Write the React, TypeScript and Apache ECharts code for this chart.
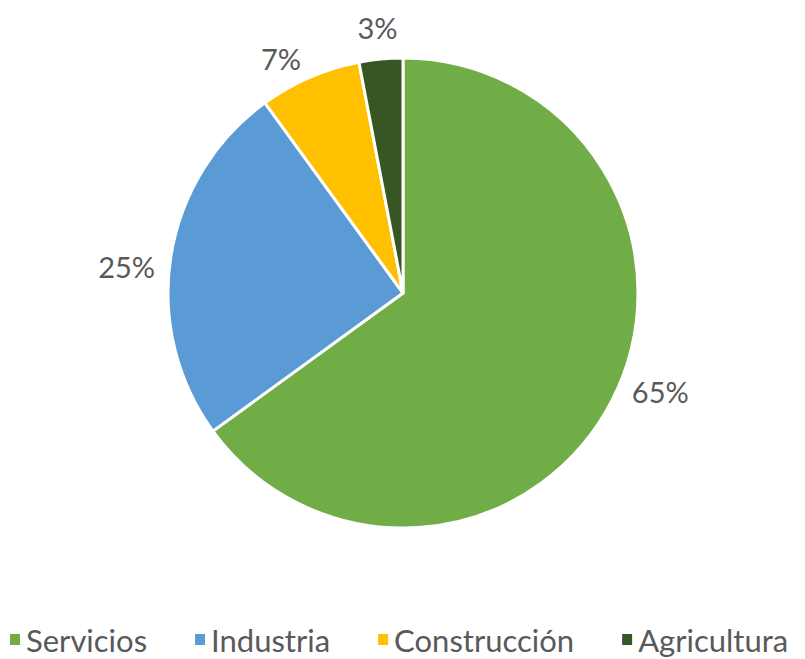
import React, { useEffect, useRef } from "react";
import * as echarts from "echarts";

const categories = ["Servicios", "Industria", "Construcción", "Agricultura"];
const values = [65, 25, 7, 3];
const colors = ["#70AD47", "#5B9BD5", "#FFC000", "#375623"];

export default function App() {
  const ref = useRef<HTMLDivElement>(null);
  useEffect(() => {
    document.body.style.margin = "0";
    const chart = echarts.init(ref.current!, null, { renderer: "svg" });
    const labelShift = [
      [2, -15],
      [3, 12],
      [2, -6],
      [23, -18],
    ];
    chart.setOption({
      animation: false,
      backgroundColor: "#ffffff",
      textStyle: { fontFamily: "Lato, 'Open Sans', sans-serif" },
      legend: {
        bottom: 4,
        left: 8,
        padding: 0,
        icon: "rect",
        itemWidth: 12,
        itemHeight: 13,
        itemGap: 46,
        textStyle: { fontSize: 31, color: "#595959", fontFamily: "Lato, sans-serif" },
        data: categories,
      },
      series: [
        {
          type: "pie",
          center: [403, 293],
          radius: [0, 235],
          startAngle: 90,
          clockwise: true,
          avoidLabelOverlap: false,
          itemStyle: { borderColor: "#ffffff", borderWidth: 3 },
          label: {
            show: true,
            position: "outside",
            formatter: "{d}%",
            fontSize: 29,
            color: "#595959",
            fontFamily: "Lato, sans-serif",
          },
          labelLine: { show: false, length: 14, length2: 0 },
          labelLayout: (p: any) => ({
            dx: labelShift[p.dataIndex][0],
            dy: labelShift[p.dataIndex][1],
          }),
          data: categories.map((c, i) => ({
            name: c,
            value: values[i],
            itemStyle: { color: colors[i] },
          })),
        },
      ],
    });
    return () => chart.dispose();
  }, []);
  return <div ref={ref} style={{ width: 805, height: 659 }} />;
}
